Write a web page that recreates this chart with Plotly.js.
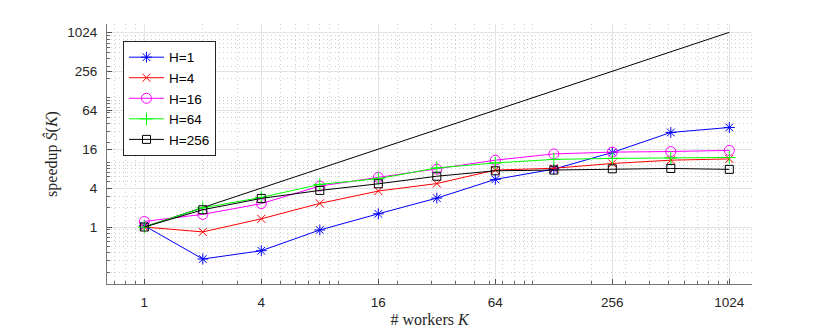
<!DOCTYPE html>
<html>
<head>
<meta charset="utf-8">
<script src="https://cdn.plot.ly/plotly-3.0.1.min.js"></script>
<style>
  html, body { margin: 0; padding: 0; background: #fff; }
  #chart-area { width: 830px; height: 332px; }
</style>
</head>
<body>
<div id="chart-area"></div>
<script>
'use strict';

// number of workers K
const workers = [1, 2, 4, 8, 16, 32, 64, 128, 256, 512, 1024];

// measured speedup per H
const speedup_h1   = [1.05, 0.32, 0.43, 0.90, 1.6, 2.8, 5.45, 7.85, 14.2, 29, 34.6];
const speedup_h4   = [1.0, 0.84, 1.34, 2.32, 3.6, 4.7, 7.6, 8.1, 9.6, 10.8, 11.3];
const speedup_h16  = [1.22, 1.57, 2.3, 4.3, 5.85, 7.85, 10.8, 13.5, 14.4, 14.7, 15.3];
const speedup_h64  = [1.0, 1.98, 2.87, 4.56, 5.6, 8.2, 9.8, 11.1, 11.5, 11.7, 11.9];
const speedup_h256 = [1.0, 1.85, 2.77, 3.68, 4.66, 6.1, 7.4, 7.6, 7.94, 8.05, 7.78];

// ideal linear speedup
const ideal_k = [1, 1024];
const ideal_s = [1, 1024];

const tick_vals = [1, 4, 16, 64, 256, 1024];
const tick_text = ['1', '4', '16', '64', '256', '1024'];

const series = [
    { name: 'H=1',   y: speedup_h1,   color: '#0000ff', symbol: 'asterisk-open',   size: 9 },
    { name: 'H=4',   y: speedup_h4,   color: '#ff0000', symbol: 'x-thin-open',     size: 8 },
    { name: 'H=16',  y: speedup_h16,  color: '#ff00ff', symbol: 'circle-open',     size: 10 },
    { name: 'H=64',  y: speedup_h64,  color: '#00ff00', symbol: 'cross-thin-open', size: 9 },
    { name: 'H=256', y: speedup_h256, color: '#000000', symbol: 'square-open',     size: 8 },
];

// minor grid like matlab: 1..9 times each decade
function decade_ticks(lo, hi) {
    let res = [];
    for (let e = lo; e <= hi; ++e) {
        for (let d = 1; d <= 9; ++d) res.push(d * Math.pow(10, e));
    }
    return res;
}

let data = [{
    x: ideal_k,
    y: ideal_s,
    mode: 'lines',
    line: { color: '#000000', width: 1 },
    showlegend: false,
    hoverinfo: 'skip',
}];

for (let s of series) {
    data.push({
        x: workers,
        y: s.y,
        name: s.name,
        mode: 'lines+markers',
        line: { color: s.color, width: 1 },
        marker: { symbol: s.symbol, size: s.size, color: s.color, line: { color: s.color, width: 1 } },
    });
}

const axis_common = {
    type: 'log',
    tickmode: 'array',
    tickvals: tick_vals,
    ticktext: tick_text,
    ticks: 'inside',
    ticklen: 5,
    tickcolor: '#555',
    tickfont: { family: 'Liberation Sans, Arial, sans-serif', size: 13.5, color: '#262626' },
    showline: true,
    linecolor: '#777',
    linewidth: 1,
    mirror: false,
    showgrid: true,
    gridcolor: '#e3e3e3',
    gridwidth: 1,
    zeroline: false,
    minor: {
        tickmode: 'array',
        tickvals: decade_ticks(-2, 3),
        ticks: 'inside',
        ticklen: 3,
        tickcolor: '#666',
        showgrid: true,
        gridcolor: '#cfcfcf',
        griddash: '1px,3px',
        gridwidth: 1,
    },
};

const layout = {
    width: 830,
    height: 332,
    margin: { l: 107, r: 78, t: 24, b: 48 },
    paper_bgcolor: '#ffffff',
    plot_bgcolor: '#ffffff',
    showlegend: true,
    xaxis: Object.assign({}, axis_common, {
        range: [-0.192, 3.127],
        ticklabelstandoff: 6,
        title: {
            text: '# workers <i>K</i>',
            font: { family: 'Liberation Serif, DejaVu Serif, serif', size: 16, color: '#262626' },
            standoff: 4,
        },
    }),
    yaxis: Object.assign({}, axis_common, {
        range: [-0.881, 3.139],
        ticklabelstandoff: 6,
        title: {
            text: 'speedup <i>Ŝ</i>(<i>K</i>)',
            font: { family: 'Liberation Serif, DejaVu Serif, serif', size: 16, color: '#262626' },
            standoff: 5,
        },
    }),
    legend: {
        x: 0.0248,
        y: 0.935,
        xanchor: 'left',
        yanchor: 'top',
        bgcolor: '#ffffff',
        bordercolor: '#262626',
        borderwidth: 1,
        itemwidth: 35,
        font: { family: 'Liberation Sans, Arial, sans-serif', size: 13.5, color: '#000000' },
        tracegroupgap: 0,
    },
};

Plotly.newPlot('chart-area', data, layout, { staticPlot: true });
</script>
</body>
</html>
